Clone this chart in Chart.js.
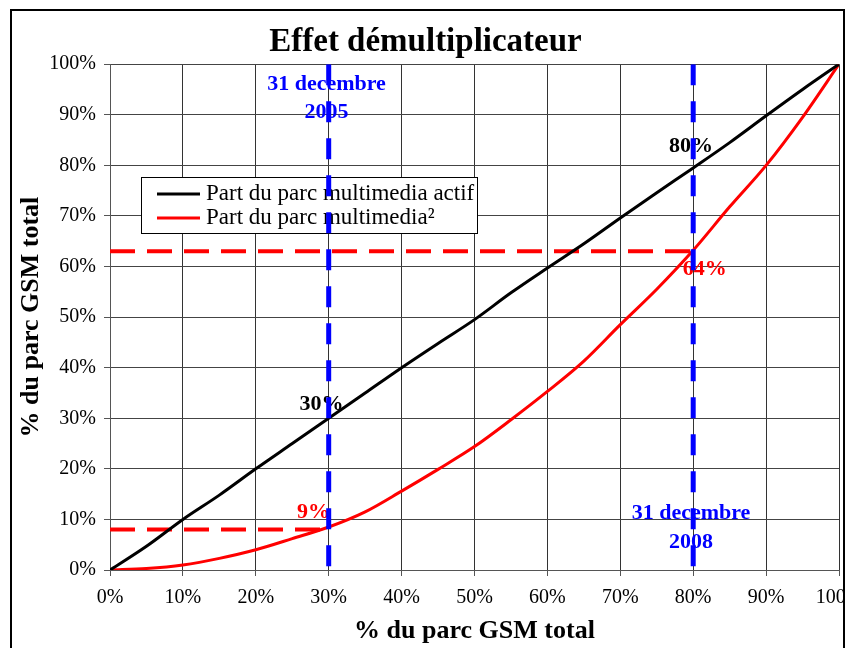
<!DOCTYPE html>
<html lang="fr">
<head>
<meta charset="utf-8">
<title>Effet démultiplicateur</title>
<script src="https://cdn.jsdelivr.net/npm/chart.js@4/dist/chart.umd.min.js"></script>
<style>
  body { margin: 0; background: #fff; }
  #cadre { width: 857px; height: 648px; position: relative; }
</style>
</head>
<body>
<div id="cadre"><canvas id="graphique"></canvas></div>
<script>
// Donnees (en % du parc GSM total)
const parcGsm = [0, 5, 10, 15, 20, 25, 30, 35, 40, 45, 50, 55, 60, 65, 70, 75, 80, 85, 90, 95, 100];
const partActif = [0, 4.7, 10, 14.8, 20, 25, 30, 35, 40, 44.8, 49.5, 54.8, 59.7, 64.5, 69.6, 74.6, 79.5, 84.5, 89.8, 95, 100];
const partMulti = [0, 0.3, 1.0, 2.3, 4.0, 6.2, 8.5, 11.5, 15.6, 19.9, 24.4, 29.7, 35.3, 41.3, 48.5, 55.5, 63.2, 71.8, 80.0, 89.5, 100];

// Reperes : dates (verticales) et niveaux atteints (horizontales)
const datesRepere = [30, 80];
const niveauxRepere = [8, 63];

const nomsSeries = ['Part du parc multimedia actif', 'Part du parc multimedia\u00b2'];
const graduations = ['0%', '10%', '20%', '30%', '40%', '50%', '60%', '70%', '80%', '90%', '100%'];

// Textes places dans le graphique (coordonnees en %)
const etiquettes = [
  { texte: '31 decembre', x: 29.7, y: 96.0, couleur: '#0000ff' },
  { texte: '2005', x: 29.7, y: 90.5, couleur: '#0000ff' },
  { texte: '31 decembre', x: 79.7, y: 11.3, couleur: '#0000ff' },
  { texte: '2008', x: 79.7, y: 5.5, couleur: '#0000ff' },
  { texte: '30%', x: 29.0, y: 32.7, couleur: '#000000' },
  { texte: '80%', x: 79.7, y: 83.7, couleur: '#000000' },
  { texte: '9%', x: 27.9, y: 11.5, couleur: '#ff0000' },
  { texte: '64%', x: 81.6, y: 59.4, couleur: '#ff0000' }
];

const police = 'Liberation Serif, Times New Roman, serif';

function points(xs, ys) {
  return xs.map((x, i) => ({ x: x, y: ys[i] }));
}

const courbes = [
  {
    label: nomsSeries[0],
    data: points(parcGsm, partActif),
    borderColor: '#000000',
    borderWidth: 3,
    pointRadius: 0,
    cubicInterpolationMode: 'monotone',
    order: 2
  },
  {
    label: nomsSeries[1],
    data: points(parcGsm, partMulti),
    borderColor: '#ff0000',
    borderWidth: 3,
    pointRadius: 0,
    cubicInterpolationMode: 'monotone',
    order: 3
  }
];

// lignes pointillees
datesRepere.forEach((d, i) => {
  courbes.push({
    label: 'horiz' + i,
    data: [{ x: 0, y: niveauxRepere[i] }, { x: d, y: niveauxRepere[i] }],
    borderColor: '#ff0000',
    borderWidth: 4,
    borderDash: [25, 12],
    pointRadius: 0,
    order: 4
  });
  courbes.push({
    label: 'vert' + i,
    data: [{ x: d, y: 100 }, { x: d, y: 0 }],
    borderColor: '#0000ff',
    borderWidth: 5,
    borderDash: [21, 16],
    pointRadius: 0,
    order: 1
  });
});

const habillage = {
  id: 'habillage',
  beforeDatasetsDraw(chart) {
    const ctx = chart.ctx;
    const sx = chart.scales.x;
    const sy = chart.scales.y;
    ctx.save();

    // legende
    ctx.fillStyle = '#fff';
    ctx.fillRect(141, 177, 336, 56);
    ctx.strokeStyle = '#000';
    ctx.lineWidth = 1;
    ctx.strokeRect(141.5, 177.5, 336, 56);
    ctx.font = '23px ' + police;
    ctx.textBaseline = 'middle';
    ctx.textAlign = 'left';
    nomsSeries.forEach((nom, i) => {
      const y = 194 + i * 24;
      ctx.strokeStyle = courbes[i].borderColor;
      ctx.lineWidth = 3;
      ctx.beginPath();
      ctx.moveTo(157, y);
      ctx.lineTo(200, y);
      ctx.stroke();
      ctx.fillStyle = '#000';
      ctx.fillText(nom, 206, y);
    });

    // textes
    ctx.font = 'bold 22px ' + police;
    ctx.textAlign = 'center';
    etiquettes.forEach(e => {
      ctx.fillStyle = e.couleur;
      ctx.fillText(e.texte, sx.getPixelForValue(e.x), sy.getPixelForValue(e.y));
    });
    ctx.restore();
  },
  afterDraw(chart) {
    const ctx = chart.ctx;
    ctx.save();
    ctx.fillStyle = '#fff';
    ctx.fillRect(845, 0, 12, 648);
    ctx.strokeStyle = '#000';
    ctx.lineWidth = 2;
    ctx.strokeRect(11, 10, 833, 660);
    ctx.restore();
  }
};

const ctx = document.getElementById('graphique').getContext('2d');

new Chart(ctx, {
  type: 'line',
  data: { datasets: courbes },
  plugins: [habillage],
  options: {
    responsive: true,
    maintainAspectRatio: false,
    animation: false,
    layout: { padding: { left: 12, right: 18, top: 0, bottom: 0 } },
    plugins: {
      legend: { display: false },
      tooltip: { enabled: false },
      title: {
        display: true,
        text: 'Effet démultiplicateur',
        color: '#000',
        font: { family: police, size: 33, weight: 'bold' },
        padding: { top: 23, bottom: 1.6 }
      }
    },
    scales: {
      x: {
        type: 'linear',
        min: 0,
        max: 100,
        ticks: {
          stepSize: 10,
          padding: 10,
          color: '#000',
          maxRotation: 0,
          autoSkip: false,
          font: { family: police, size: 20 },
          callback: (v, i) => graduations[i]
        },
        grid: { color: '#333', tickLength: 6, tickColor: '#555' },
        border: { color: '#555' },
        title: {
          display: true,
          text: '% du parc GSM total',
          color: '#000',
          font: { family: police, size: 26, weight: 'bold' },
          padding: { top: 0, bottom: 1 }
        },
        afterFit: s => { s.height = 78; s.paddingLeft = 0; s.paddingRight = 0; }
      },
      y: {
        type: 'linear',
        min: 0,
        max: 100,
        ticks: {
          stepSize: 10,
          padding: 8,
          color: '#000',
          font: { family: police, size: 20 },
          callback: (v, i) => graduations[i]
        },
        grid: { color: '#444', tickLength: 6, tickColor: '#555' },
        border: { color: '#555' },
        title: {
          display: true,
          text: '% du parc GSM total',
          color: '#000',
          font: { family: police, size: 26, weight: 'bold' },
          padding: { top: 4, bottom: 0 }
        },
        afterFit: s => { s.width = 98; }
      }
    }
  }
});
</script>
</body>
</html>
